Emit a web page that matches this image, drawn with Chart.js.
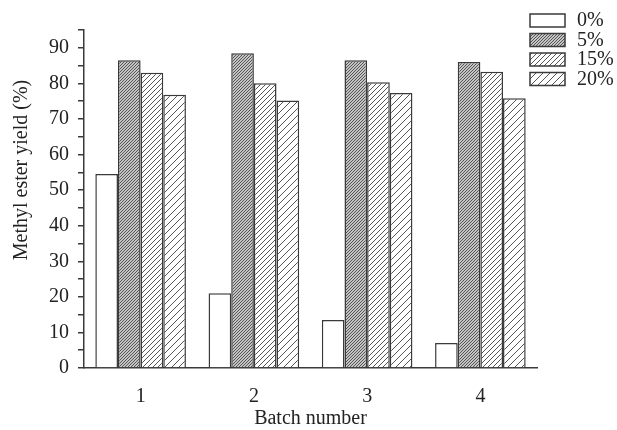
<!DOCTYPE html>
<html>
<head>
<meta charset="utf-8">
<script src="https://cdn.jsdelivr.net/npm/chart.js@4.4.1/dist/chart.umd.min.js"></script>
<style>
  html, body { margin: 0; padding: 0; background: #fff; }
  #wrap { width: 617px; height: 430px; }
</style>
</head>
<body>
<div id="wrap"><canvas id="chart"></canvas></div>
<script>
/* global document, Chart */
const batches = ["1", "2", "3", "4"];
const seriesNames = ["0%", "5%", "15%", "20%"];
const yield0 = [54.5, 21, 13.5, 7];
const yield5 = [86.5, 88.5, 86.5, 86];
const yield15 = [83, 80, 80.3, 83.3];
const yield20 = [76.8, 75.2, 77.3, 75.8];
const yTicks = [0, 10, 20, 30, 40, 50, 60, 70, 80, 90];

const ink = "#3a3a3a";
const serif = "'Liberation Serif', 'Times New Roman', serif";

// Diagonal hatch fill, "/" direction
function hatch(size, bg, line) {
  const c = document.createElement("canvas");
  c.width = size;
  c.height = size;
  const g = c.getContext("2d");
  g.fillStyle = bg;
  g.fillRect(0, 0, size, size);
  g.strokeStyle = line;
  g.lineWidth = 1;
  g.beginPath();
  g.moveTo(0, size); g.lineTo(size, 0);
  g.moveTo(-1, 1); g.lineTo(1, -1);
  g.moveTo(size - 1, size + 1); g.lineTo(size + 1, size - 1);
  g.stroke();
  return g.createPattern(c, "repeat");
}

const fills = [
  "#ffffff",
  hatch(3, "#c4c4c4", "#555555"),
  hatch(5, "#ffffff", "#555555"),
  hatch(7, "#ffffff", "#555555")
];
const values = [yield0, yield5, yield15, yield20];

// Legend at top right, stacked boxes
const boxLegend = {
  id: "boxLegend",
  afterDraw(chart) {
    const c = chart.ctx;
    c.save();
    c.font = "20px " + serif;
    c.textBaseline = "middle";
    chart.data.datasets.forEach((ds, i) => {
      const y = 14 + i * 19.5;
      c.fillStyle = ds.backgroundColor;
      c.fillRect(530, y, 35, 13);
      c.strokeStyle = ink;
      c.lineWidth = 1.5;
      c.strokeRect(530, y, 35, 13);
      c.fillStyle = "#222";
      c.fillText(ds.label, 577, y + 7);
    });
    c.restore();
  }
};

// Y title sits a little above the axis centre in the original
const yTitle = {
  id: "yTitle",
  afterDraw(chart) {
    const c = chart.ctx;
    c.save();
    c.translate(22, 170);
    c.rotate(-Math.PI / 2);
    c.font = "20px " + serif;
    c.fillStyle = "#222";
    c.textAlign = "center";
    c.textBaseline = "middle";
    c.fillText("Methyl ester yield (%)", 0, 0);
    c.restore();
  }
};

new Chart(document.getElementById("chart"), {
  type: "bar",
  data: {
    labels: batches,
    datasets: seriesNames.map((name, i) => ({
      label: name,
      data: values[i],
      backgroundColor: fills[i],
      borderColor: ink,
      borderWidth: 1.5,
      barPercentage: 1,
      categoryPercentage: 0.8
    }))
  },
  options: {
    responsive: true,
    maintainAspectRatio: false,
    animation: false,
    layout: { padding: { left: 0, right: 80, top: 30, bottom: 0 } },
    plugins: {
      legend: { display: false },
      tooltip: { enabled: false }
    },
    scales: {
      x: {
        grid: { display: false, drawTicks: false },
        border: { display: true, color: ink, width: 1.5 },
        ticks: { color: "#222", font: { family: serif, size: 20 }, padding: 17 },
        title: {
          display: true,
          text: "Batch number",
          color: "#222",
          font: { family: serif, size: 20, lineHeight: 1 },
          padding: { top: 0, bottom: 1 }
        },
        afterFit: s => { s.height = 62; }
      },
      y: {
        min: 0,
        max: 95,
        grid: { drawOnChartArea: false, drawTicks: true, tickLength: 6, color: ink, lineWidth: 1.5 },
        border: { display: true, color: ink, width: 1.5 },
        ticks: {
          stepSize: 5,
          autoSkip: false,
          color: "#222",
          font: { family: serif, size: 20 },
          padding: 9,
          callback: v => yTicks.includes(v) ? String(v) : ""
        },
        afterFit: s => { s.width = 84; }
      }
    }
  },
  plugins: [boxLegend, yTitle]
});
</script>
</body>
</html>
